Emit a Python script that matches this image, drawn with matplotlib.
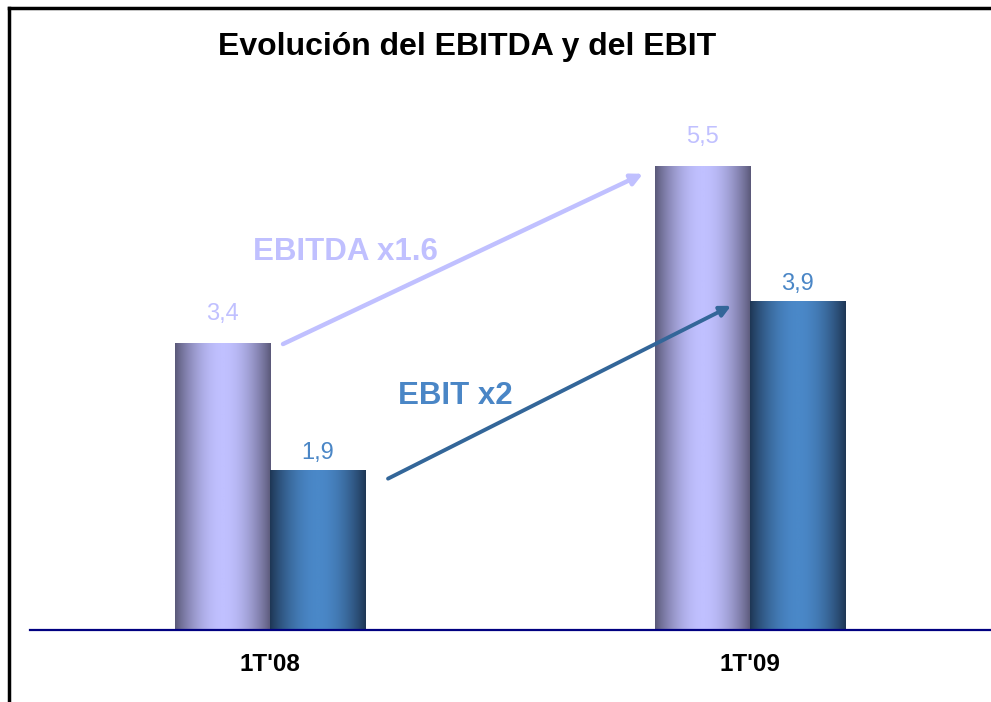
import numpy as np
import matplotlib
matplotlib.use("Agg")
import matplotlib.pyplot as plt
from matplotlib.colors import LinearSegmentedColormap
from matplotlib.lines import Line2D

plt.rcParams['font.family'] = ['Liberation Sans', 'DejaVu Sans']

# ---- data ----
categories = ["1T'08", "1T'09"]
ebitda = [3.4, 5.5]
ebit = [1.9, 3.9]
ebitda_labels = ["3,4", "5,5"]
ebit_labels = ["1,9", "3,9"]
title = "Evolución del EBITDA y del EBIT"
ebitda_growth = "EBITDA x1.6"
ebit_growth = "EBIT x2"

W, H = 991, 702
fig = plt.figure(figsize=(W / 100, H / 100), dpi=100)
fig.patch.set_facecolor('white')

px_per_unit = 84.4
base_px = 630
ymax = 6.5
top_px = base_px - ymax * px_per_unit
ax = fig.add_axes([30 / W, (H - base_px) / H, 1 - 30 / W, (base_px - top_px) / H])

x = np.arange(len(categories))
width = 0.198
xlim = ((30 - 270) / 480, (991 - 270) / 480)
ax.set_xlim(*xlim)
ax.set_ylim(0, ymax)

bars1 = ax.bar(x - width / 2, ebitda, width, color='none', edgecolor='none')
bars2 = ax.bar(x + width / 2, ebit, width, color='none', edgecolor='none')

t = np.linspace(0, 1, 256)
prof = np.sin(np.pi * t) ** 0.9
cm1 = LinearSegmentedColormap.from_list('c1', ['#5a5878', '#c0c0ff'])
cm2 = LinearSegmentedColormap.from_list('c2', ['#1e3654', '#4a88c8'])
grad = prof[np.newaxis, :]

for bars, cm in ((bars1, cm1), (bars2, cm2)):
    for b in bars:
        x0, y0 = b.get_x(), b.get_y()
        w, h = b.get_width(), b.get_height()
        im = ax.imshow(grad, cmap=cm, vmin=0, vmax=1, aspect='auto',
                       extent=(x0, x0 + w, y0, y0 + h), zorder=2,
                       interpolation='bilinear')
        im.set_clip_path(b)

ax.set_xlim(*xlim)
ax.set_ylim(0, ymax)

# value labels
for b, lab in zip(bars1, ebitda_labels):
    ax.annotate(lab, (b.get_x() + b.get_width() / 2, b.get_height()),
                xytext=(0, 16.5), textcoords='offset points', ha='center',
                va='baseline', fontsize=17, color='#c0c0ff')
for b, lab in zip(bars2, ebit_labels):
    ax.annotate(lab, (b.get_x() + b.get_width() / 2, b.get_height()),
                xytext=(0, 8), textcoords='offset points', ha='center',
                va='baseline', fontsize=17, color='#4a86c6')

# growth arrows linking the bar tops
dx = 1 / 480
dy = 1 / px_per_unit
b0, b1 = bars1[0], bars1[1]
ax.annotate('', xy=(b1.get_x() - 12 * dx, ebitda[1] - 8 * dy),
            xytext=(b0.get_x() + b0.get_width() + 13 * dx, ebitda[0] - 1 * dy),
            arrowprops=dict(arrowstyle='-|>', color='#c0c0ff', lw=3.2,
                            mutation_scale=17, shrinkA=0, shrinkB=0), zorder=3)
e0, e1 = bars2[0], bars2[1]
ax.annotate('', xy=(e1.get_x() - 19 * dx, ebit[1] - 5 * dy),
            xytext=(e0.get_x() + e0.get_width() + 23 * dx, ebit[0] - 9 * dy),
            arrowprops=dict(arrowstyle='-|>', color='#336699', lw=2.8,
                            mutation_scale=16, shrinkA=0, shrinkB=0), zorder=4)

fig.text(253 / W, (H - 260) / H, ebitda_growth, fontsize=22.5, fontweight='bold',
         color='#c0c0ff', ha='left', va='baseline')
fig.text(398 / W, (H - 404) / H, ebit_growth, fontsize=22.5, fontweight='bold',
         color='#4a86c6', ha='left', va='baseline')

fig.text(467 / W, (H - 55) / H, title, fontsize=23, fontweight='bold',
         color='black', ha='center', va='baseline')

# axes styling
for s in ax.spines.values():
    s.set_visible(False)
ax.axhline(0, color='#000080', lw=1.6, zorder=5, clip_on=False)
ax.set_yticks([])
ax.set_xticks(x)
ax.set_xticklabels(categories, fontsize=17.5, fontweight='bold')
ax.tick_params(axis='x', length=0, pad=16.5)
ax.patch.set_alpha(0)

# frame
fig.add_artist(Line2D([9 / W, 1], [1 - 8 / H, 1 - 8 / H], color='black', lw=2.5,
                      transform=fig.transFigure))
fig.add_artist(Line2D([9 / W, 9 / W], [0, 1 - 8 / H], color='black', lw=2.5,
                      transform=fig.transFigure))

fig.savefig('out.png', dpi=100, facecolor='white')
